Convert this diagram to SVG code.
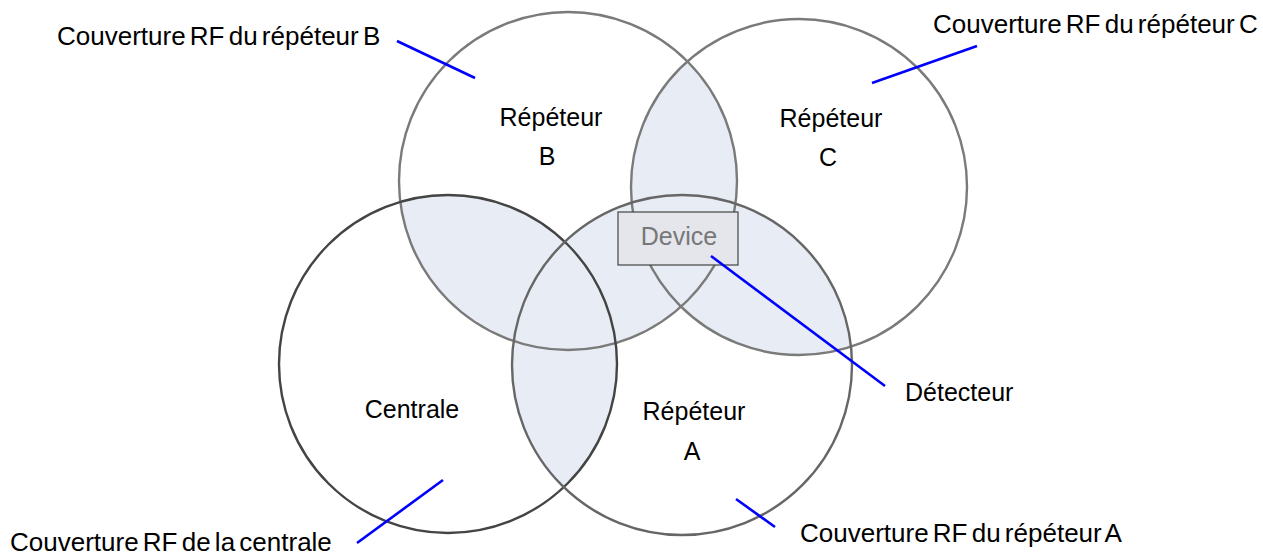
<svg xmlns="http://www.w3.org/2000/svg" width="1263" height="555" viewBox="0 0 1263 555">
<style>
.ring{fill:none;stroke:#666;stroke-width:2.4}
.dark{stroke:#444}
.light{stroke:#7a7a7a}
.shade{fill:#e8ecf4;stroke:none}
.lbl{font-family:"Liberation Sans",Arial,sans-serif;font-size:25px;fill:#000}
.cov{font-family:"Liberation Sans",Arial,sans-serif;font-size:26px;fill:#000;word-spacing:-3px}
.mid{text-anchor:middle}
.lead{stroke:#0000ff;stroke-width:2.6;fill:none}
</style>
<defs>
<clipPath id="cB"><circle cx="568" cy="181" r="169"/></clipPath>
<clipPath id="cC"><circle cx="799" cy="187" r="168"/></clipPath>
<clipPath id="cA"><circle cx="682" cy="365" r="170"/></clipPath>
</defs>
<rect width="1263" height="555" fill="#fff"/>
<g id="overlaps">
<circle class="shade" cx="799" cy="187" r="168" clip-path="url(#cB)"/>
<circle class="shade" cx="448" cy="364" r="169" clip-path="url(#cB)"/>
<circle class="shade" cx="682" cy="365" r="170" clip-path="url(#cB)"/>
<circle class="shade" cx="682" cy="365" r="170" clip-path="url(#cC)"/>
<circle class="shade" cx="448" cy="364" r="169" clip-path="url(#cA)"/>
</g>
<g id="repeteurB">
<circle class="ring light" cx="568" cy="181" r="169"/>
<text class="lbl mid" x="551" y="126">Répéteur</text>
<text class="lbl mid" x="547" y="165">B</text>
</g>
<g id="repeteurC">
<circle class="ring light" cx="799" cy="187" r="168"/>
<text class="lbl mid" x="831" y="127">Répéteur</text>
<text class="lbl mid" x="828" y="166">C</text>
</g>
<g id="centrale">
<circle class="ring dark" cx="448" cy="364" r="169"/>
<text class="lbl mid" x="412" y="418">Centrale</text>
</g>
<g id="repeteurA">
<circle class="ring" cx="682" cy="365" r="170"/>
<text class="lbl mid" x="694" y="420">Répéteur</text>
<text class="lbl mid" x="692" y="460">A</text>
</g>
<g id="device">
<rect x="618" y="212" width="120" height="53" fill="#e4e6ec" stroke="#444" stroke-width="1.2"/>
<text x="679" y="245" text-anchor="middle" font-family="'Liberation Sans',Arial,sans-serif" font-size="25" fill="#777">Device</text>
</g>
<g id="labels">
<text class="cov" x="57" y="45">Couverture RF du répéteur B</text>
<text class="cov" x="933" y="33">Couverture RF du répéteur C</text>
<text class="cov" x="10" y="551">Couverture RF de la centrale</text>
<text class="cov" x="800" y="542">Couverture RF du répéteur A</text>
<text class="lbl" x="905" y="401">Détecteur</text>
</g>
<g id="connectors">
<line class="lead" x1="397" y1="41" x2="475" y2="78"/>
<line class="lead" x1="872" y1="83" x2="977" y2="46"/>
<line class="lead" x1="443" y1="480" x2="357" y2="543"/>
<line class="lead" x1="736" y1="499" x2="775" y2="527"/>
<line class="lead" x1="711" y1="256" x2="885" y2="386"/>
</g>
</svg>
